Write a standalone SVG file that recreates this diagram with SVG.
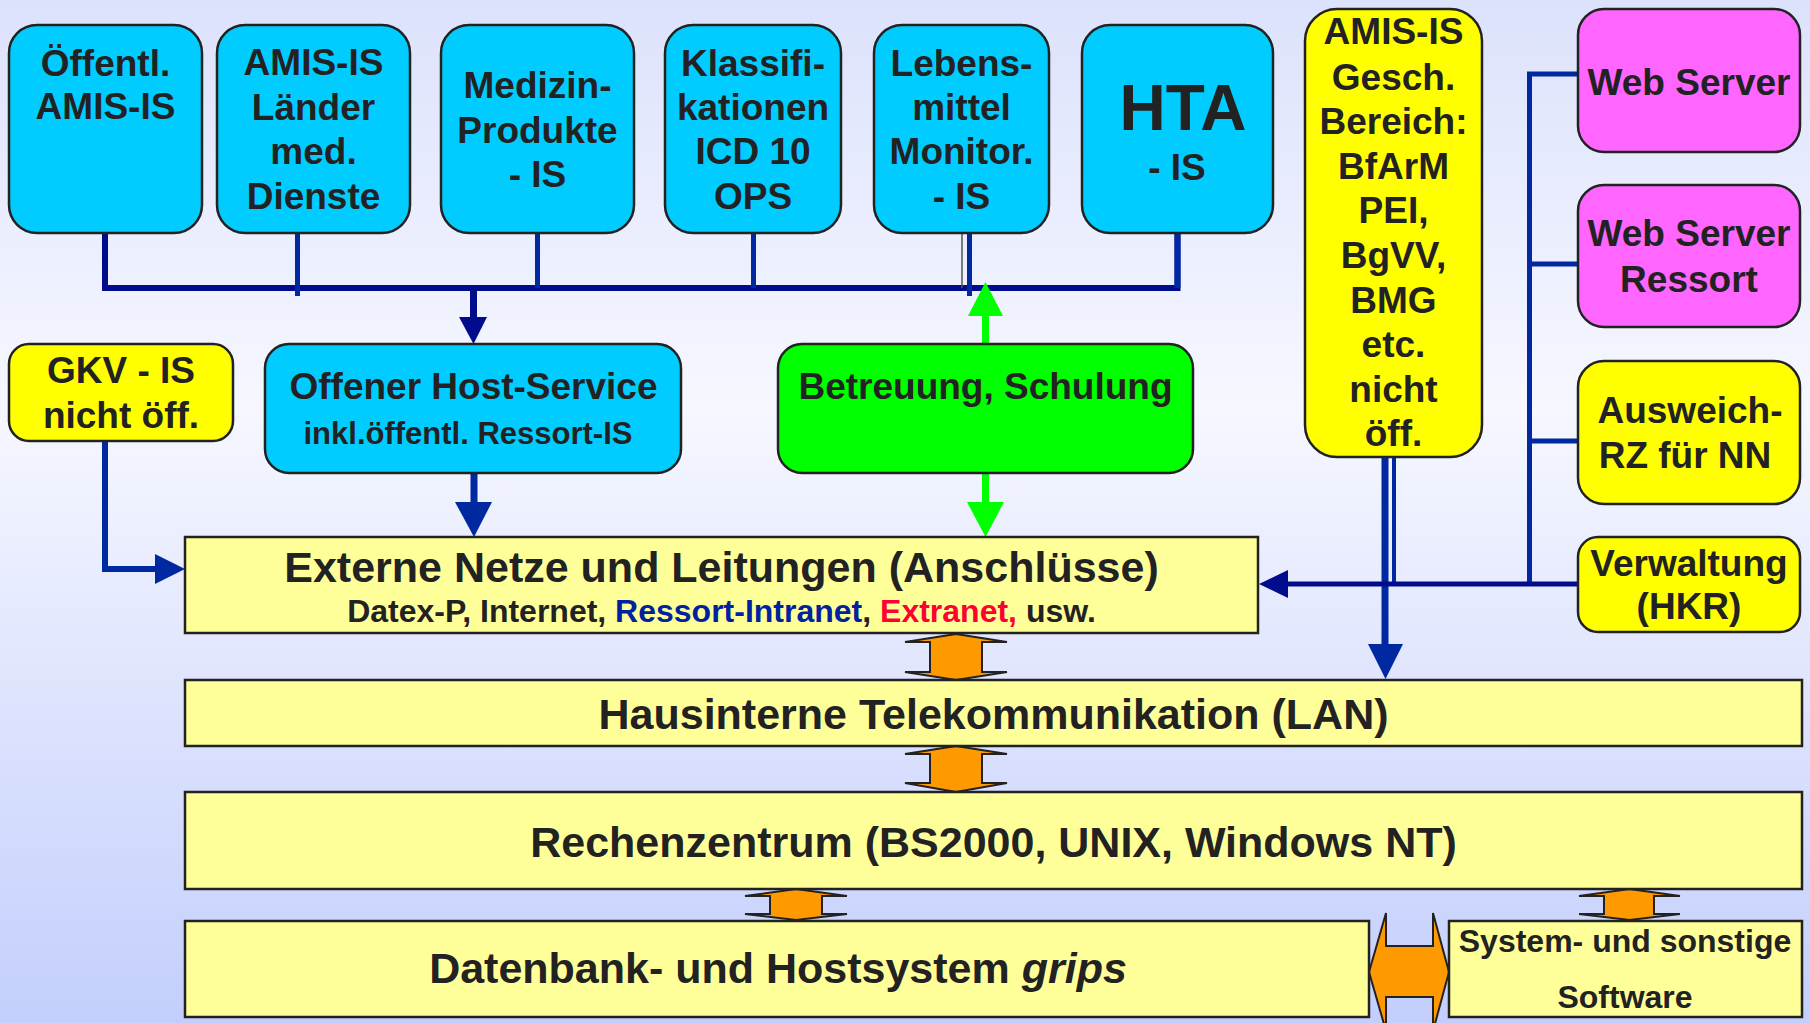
<svg xmlns="http://www.w3.org/2000/svg" width="1810" height="1023" viewBox="0 0 1810 1023">
<defs>
<linearGradient id="bg" x1="0" y1="0" x2="0" y2="1">
<stop offset="0" stop-color="#dce2fc"/>
<stop offset="0.4" stop-color="#f6f7ff"/>
<stop offset="1" stop-color="#c3cefc"/>
</linearGradient>
<style>
text{font-family:"Liberation Sans",Arial,sans-serif;font-weight:bold;fill:#222;text-anchor:middle}
.t37{font-size:37px}
.t42{font-size:43px}
.t32{font-size:32px}
.t31{font-size:31px}
.cyan{fill:#00ccff;stroke:#222;stroke-width:2.5}
.yel{fill:#ffff00;stroke:#222;stroke-width:2.5}
.mag{fill:#ff66ff;stroke:#222;stroke-width:2.5}
.green{fill:#00ff00;stroke:#222;stroke-width:2.5}
.lyel{fill:#ffff99;stroke:#222;stroke-width:2.5}
.orange{fill:#ff9900;stroke:#222;stroke-width:2;stroke-linejoin:miter}
.navy{stroke:#000c8c;fill:none}
.blue{stroke:#0028a0;fill:none}
</style>
</defs>
<rect x="0" y="0" width="1810" height="1023" fill="url(#bg)"/>

<g id="connectors">
<!-- top bus -->
<polyline class="navy" stroke-width="6" points="105,233 105,288 755,288"/>
<polyline class="navy" stroke-width="6" points="752,288 1177.5,288 1177.5,233"/>
<line class="blue" stroke-width="5" x1="297.5" y1="233" x2="297.5" y2="296"/>
<line class="blue" stroke-width="5" x1="537.5" y1="233" x2="537.5" y2="288"/>
<line class="blue" stroke-width="5" x1="753.5" y1="233" x2="753.5" y2="288"/>
<line stroke="#555" stroke-width="1.5" x1="962" y1="233" x2="962" y2="288"/>
<line class="blue" stroke-width="5" x1="969.5" y1="233" x2="969.5" y2="296"/>
<line class="blue" stroke-width="6" x1="1177.5" y1="233" x2="1177.5" y2="288"/>
<!-- bus to Offener Host -->
<line class="navy" stroke-width="7" x1="473.5" y1="288" x2="473.5" y2="318"/>
<polygon fill="#000c8c" points="459,317 487,317 473.5,344"/>
<!-- Offener Host to Externe -->
<line stroke="#0028a0" stroke-width="7" x1="474" y1="473" x2="474" y2="503"/>
<polygon fill="#0028a0" points="455,502 492,502 474,537"/>
<!-- green double -->
<line stroke="#00ff00" stroke-width="7" x1="985.5" y1="312" x2="985.5" y2="344"/>
<polygon fill="#00ff00" points="968,316 1003,316 985.5,282"/>
<line stroke="#00ff00" stroke-width="7" x1="985.5" y1="473" x2="985.5" y2="503"/>
<polygon fill="#00ff00" points="967,502 1004,502 985.5,537"/>
<!-- GKV to Externe -->
<polyline stroke="#0028a0" fill="none" stroke-width="6" points="105,441 105,569 158,569"/>
<polygon fill="#0028a0" points="155,554 185,569 155,584"/>
<!-- AMIS Gesch lines -->
<line stroke="#0028a0" stroke-width="7" x1="1385" y1="457" x2="1385" y2="646"/>
<polygon fill="#0028a0" points="1368,644 1403,644 1385.5,679"/>
<line stroke="#0028a0" stroke-width="4" x1="1394" y1="457" x2="1394" y2="584"/>
<!-- right bus -->
<polyline class="blue" stroke-width="5" points="1578,74 1529.5,74 1529.5,584"/>
<line class="blue" stroke-width="5" x1="1529.5" y1="264" x2="1578" y2="264"/>
<line class="blue" stroke-width="5" x1="1529.5" y1="441" x2="1578" y2="441"/>
<line class="navy" stroke-width="5" x1="1578" y1="584" x2="1285" y2="584"/>
<polygon fill="#000c8c" points="1288,570 1259,584 1288,598"/>
<!-- orange double arrows -->
<polygon class="orange" points="956,634 1007,642 982,642 982,672 1007,672 956,680 905,672 930,672 930,642 905,642"/>
<polygon class="orange" points="956,746 1007,754 982,754 982,783 1007,783 956,792 905,783 930,783 930,754 905,754"/>
<polygon class="orange" points="796,889 847,896 822,896 822,914 847,914 796,920 745,914 770,914 770,896 745,896"/>
<polygon class="orange" points="1629.5,889 1680,896 1654,896 1654,914 1680,914 1629.5,920 1579,914 1604,914 1604,896 1579,896"/>
<polygon class="orange" points="1369,972 1386,913 1386,946 1433,946 1433,913 1449,972 1433,1031 1433,997 1386,997 1386,1031"/>
</g>

<g id="n-oeffentl">
<rect class="cyan" x="9" y="25" width="193" height="208" rx="28"/>
<text class="t37" x="105.5" y="76">Öffentl.</text>
<text class="t37" x="105.5" y="119">AMIS-IS</text>
</g>
<g id="n-laender">
<rect class="cyan" x="217" y="25" width="193" height="208" rx="28"/>
<text class="t37" x="313.5" y="75">AMIS-IS</text>
<text class="t37" x="313.5" y="120">Länder</text>
<text class="t37" x="313.5" y="164">med.</text>
<text class="t37" x="313.5" y="209">Dienste</text>
</g>
<g id="n-medizin">
<rect class="cyan" x="441" y="25" width="193" height="208" rx="28"/>
<text class="t37" x="537.5" y="98">Medizin-</text>
<text class="t37" x="537.5" y="143">Produkte</text>
<text class="t37" x="537.5" y="187">- IS</text>
</g>
<g id="n-klass">
<rect class="cyan" x="665" y="25" width="176" height="208" rx="28"/>
<text class="t37" x="753" y="76">Klassifi-</text>
<text class="t37" x="753" y="120">kationen</text>
<text class="t37" x="753" y="164">ICD 10</text>
<text class="t37" x="753" y="209">OPS</text>
</g>
<g id="n-lebens">
<rect class="cyan" x="874" y="25" width="175" height="208" rx="28"/>
<text class="t37" x="961.5" y="76">Lebens-</text>
<text class="t37" x="961.5" y="120">mittel</text>
<text class="t37" x="961.5" y="164">Monitor.</text>
<text class="t37" x="961.5" y="209">- IS</text>
</g>
<g id="n-hta">
<rect class="cyan" x="1082" y="25" width="191" height="208" rx="28"/>
<text x="1183" y="130" style="font-size:64px">HTA</text>
<text class="t37" x="1177" y="180">- IS</text>
</g>
<g id="n-gkv">
<rect class="yel" x="9" y="344" width="224" height="97" rx="20"/>
<text class="t37" x="121" y="383">GKV - IS</text>
<text class="t37" x="121" y="428">nicht öff.</text>
</g>
<g id="n-host">
<rect class="cyan" x="265" y="344" width="416" height="129" rx="24"/>
<text class="t37" x="473.5" y="399">Offener Host-Service</text>
<text class="t31" x="468" y="444">inkl.öffentl. Ressort-IS</text>
</g>
<g id="n-betreuung">
<rect class="green" x="778" y="344" width="415" height="129" rx="24"/>
<text class="t37" x="985.5" y="399">Betreuung, Schulung</text>
</g>
<g id="n-amisgesch">
<rect class="yel" x="1305" y="9" width="177" height="448" rx="32"/>
<text class="t37" x="1393.5" y="44">AMIS-IS</text>
<text class="t37" x="1393.5" y="90">Gesch.</text>
<text class="t37" x="1393.5" y="134">Bereich:</text>
<text class="t37" x="1393.5" y="179">BfArM</text>
<text class="t37" x="1393.5" y="223">PEI,</text>
<text class="t37" x="1393.5" y="268">BgVV,</text>
<text class="t37" x="1393.5" y="313">BMG</text>
<text class="t37" x="1393.5" y="357">etc.</text>
<text class="t37" x="1393.5" y="402">nicht</text>
<text class="t37" x="1393.5" y="446">öff.</text>
</g>
<g id="n-webserver">
<rect class="mag" x="1578" y="9" width="222" height="143" rx="26"/>
<text class="t37" x="1689" y="95">Web Server</text>
</g>
<g id="n-webressort">
<rect class="mag" x="1578" y="185" width="222" height="142" rx="26"/>
<text class="t37" x="1689" y="246">Web Server</text>
<text class="t37" x="1689" y="292">Ressort</text>
</g>
<g id="n-ausweich">
<rect class="yel" x="1578" y="361" width="222" height="143" rx="26"/>
<text class="t37" x="1690" y="423">Ausweich-</text>
<text class="t37" x="1685" y="468">RZ für NN</text>
</g>
<g id="n-verwaltung">
<rect class="yel" x="1578" y="537" width="222" height="95" rx="20"/>
<text class="t37" x="1689" y="576">Verwaltung</text>
<text class="t37" x="1689" y="619">(HKR)</text>
</g>
<g id="n-externe">
<rect class="lyel" x="185" y="537" width="1073" height="96"/>
<text class="t42" x="721.5" y="582">Externe Netze und Leitungen (Anschlüsse)</text>
<text class="t32" x="721.5" y="622">Datex-P, Internet, <tspan fill="#0022a0">Ressort-Intranet</tspan>, <tspan fill="#ff0033">Extranet,</tspan> usw.</text>
</g>
<g id="n-lan">
<rect class="lyel" x="185" y="680" width="1617" height="66"/>
<text class="t42" x="993.5" y="729">Hausinterne Telekommunikation (LAN)</text>
</g>
<g id="n-rz">
<rect class="lyel" x="185" y="792" width="1617" height="97"/>
<text class="t42" x="993.5" y="857">Rechenzentrum (BS2000, UNIX, Windows NT)</text>
</g>
<g id="n-datenbank">
<rect class="lyel" x="185" y="921" width="1184" height="96"/>
<text class="t42" x="778" y="983">Datenbank- und Hostsystem <tspan font-style="italic">grips</tspan></text>
</g>
<g id="n-system">
<rect class="lyel" x="1449" y="921" width="353" height="96"/>
<text class="t32" x="1625" y="952">System- und sonstige</text>
<text class="t32" x="1625" y="1008">Software</text>
</g>
</svg>
